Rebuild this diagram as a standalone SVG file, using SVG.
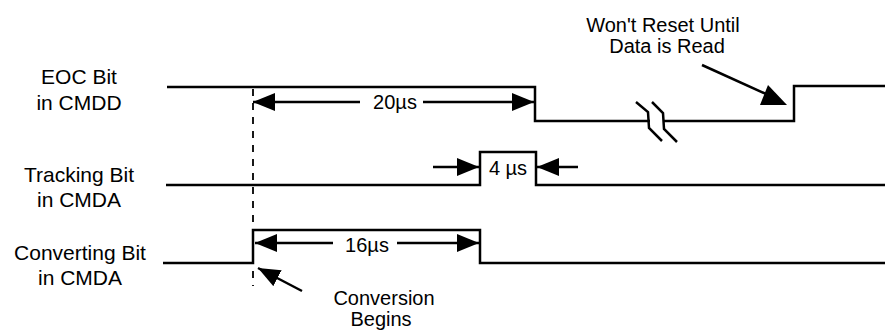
<svg xmlns="http://www.w3.org/2000/svg" width="885" height="330" viewBox="0 0 885 330">
<style>
  text { font-family: "Liberation Sans", Arial, sans-serif; fill: #000; text-anchor: middle; }
  .lbl { font-size: 21px; }
  .ann { font-size: 20px; }
  .sig { fill: none; stroke: #000; stroke-width: 2.5; }
  .arr { fill: none; stroke: #000; stroke-width: 2.5; marker-end: url(#ah); }
  .dash { fill: none; stroke: #000; stroke-width: 1.8; stroke-dasharray: 7 7; }
  .brk { fill: none; stroke: #000; stroke-width: 2.5; }
</style>
<defs>
  <marker id="ah" viewBox="0 0 22 18" refX="22" refY="9" markerWidth="22" markerHeight="18" markerUnits="userSpaceOnUse" orient="auto">
    <path d="M0,0 L22,9 L0,18 z" fill="#000"/>
  </marker>
</defs>
<rect width="885" height="330" fill="#fff"/>

<g id="label-eoc">
  <text class="lbl" x="79" y="84">EOC Bit</text>
  <text class="lbl" x="79" y="110">in CMDD</text>
</g>
<g id="label-tracking">
  <text class="lbl" x="79" y="182">Tracking Bit</text>
  <text class="lbl" x="79" y="207">in CMDA</text>
</g>
<g id="label-converting">
  <text class="lbl" x="80" y="260">Converting Bit</text>
  <text class="lbl" x="80" y="285">in CMDA</text>
</g>

<g id="signal-eoc">
  <path class="sig" d="M167,87 H535 V121 H650 M664,121 H794 V86 H885"/>
  <polyline class="brk" points="636,102 648,112 649,128 662,141"/>
  <polyline class="brk" points="652,102 663,113 664,129 677,142"/>
</g>
<g id="signal-tracking">
  <path class="sig" d="M166,185 H480 V152 H536 V185 H885"/>
</g>
<g id="signal-converting">
  <path class="sig" d="M163,263 H253 V230 H480 V263 H885"/>
</g>

<g id="connectors">
  <line class="dash" x1="253" y1="89" x2="253" y2="286"/>
  <line class="arr" x1="360" y1="102" x2="253" y2="102"/>
  <line class="arr" x1="423" y1="102" x2="534" y2="102"/>
  <line class="arr" x1="333" y1="243" x2="255" y2="243"/>
  <line class="arr" x1="397" y1="243" x2="479" y2="243"/>
  <line class="arr" x1="433" y1="167" x2="479" y2="167"/>
  <line class="arr" x1="578" y1="167" x2="537" y2="167"/>
  <line class="arr" x1="302" y1="291" x2="258" y2="268"/>
  <line class="sig" x1="702" y1="65" x2="775" y2="98"/>
  <polygon points="768,85 760,105 787,105" fill="#000"/>
</g>

<g id="annotations">
  <text class="ann" x="395" y="109">20µs</text>
  <text class="ann" x="508" y="175">4 µs</text>
  <text class="ann" x="367" y="252">16µs</text>
  <text class="ann" x="384" y="305">Conversion</text>
  <text class="ann" x="381" y="326">Begins</text>
  <text class="ann" x="663" y="32">Won't Reset Until</text>
  <text class="ann" x="667" y="53">Data is Read</text>
</g>
</svg>
